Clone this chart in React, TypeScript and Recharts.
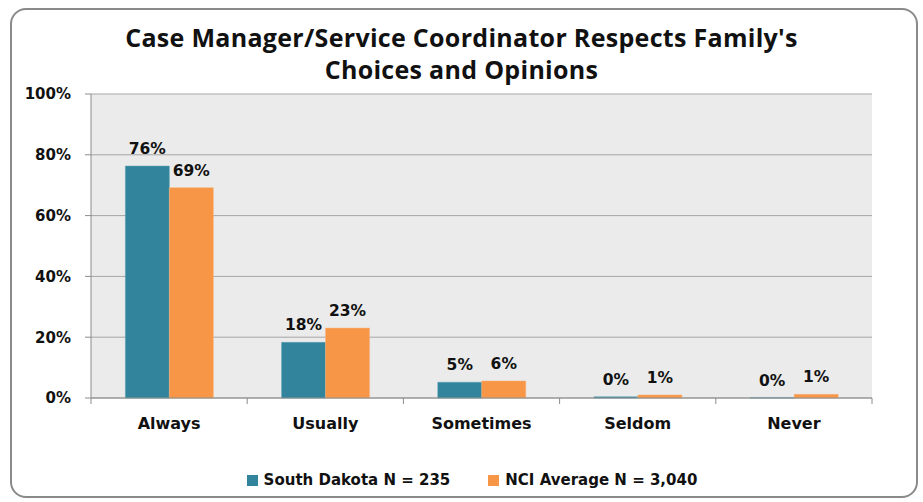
import { BarChart, Bar, XAxis, YAxis, CartesianGrid, Legend, LabelList } from "recharts";

const categories = ["Always", "Usually", "Sometimes", "Seldom", "Never"];
const southDakota = [76.3, 18.3, 5.2, 0.4, 0.1];
const nciAverage = [69.2, 23.0, 5.6, 1.0, 1.2];
const yTicks = [0, 20, 40, 60, 80, 100];

const seriesNames = ["South Dakota N = 235", "NCI Average N = 3,040"];
const seriesColors = ["#31849b", "#f79646"];
const titleLines = ["Case Manager/Service Coordinator Respects Family's", "Choices and Opinions"];

const W = 923;
const H = 502;
const PLOT_LEFT = 91;
const PLOT_RIGHT = 872;
const BAND = (PLOT_RIGHT - PLOT_LEFT) / categories.length;

const data = categories.map((c, i) => ({ name: c, sd: southDakota[i], nci: nciAverage[i] }));

const FONT = "'DejaVu Sans', Verdana, sans-serif";

function CatTick(props: any) {
  const { x, y, payload, index } = props;
  const left = x - BAND / 2;
  return (
    <g>
      <line x1={left} y1={y - 8} x2={left} y2={y - 2} stroke="#8c8c8c" />
      {index === categories.length - 1 && (
        <line x1={left + BAND} y1={y - 8} x2={left + BAND} y2={y - 2} stroke="#8c8c8c" />
      )}
      <text x={x} y={y + 23} textAnchor="middle" fontFamily={FONT} fontWeight="bold" fontSize={16} fill="#111">
        {payload.value}
      </text>
    </g>
  );
}

function LegendBox() {
  return (
    <div style={{ display: "flex", justifyContent: "center", paddingTop: 24, paddingLeft: 72, fontFamily: FONT, fontWeight: "bold", fontSize: 15, color: "#111", lineHeight: "16px" }}>
      {seriesNames.map((n, i) => (
        <div key={n} style={{ display: "flex", alignItems: "center", marginRight: i === 0 ? 38 : 0 }}>
          <span style={{ width: 11, height: 11, background: seriesColors[i], display: "inline-block", marginRight: 6 }} />
          <span>{n}</span>
        </div>
      ))}
    </div>
  );
}

const pct = (v: any) => Math.round(Number(v)) + "%";

export default function App() {
  return (
    <div style={{ position: "fixed", left: 0, top: 0, width: W, height: H, background: "#fff" }}>
      <div
        style={{
          position: "absolute", left: 10, top: 8, width: 904, height: 486,
          border: "2px solid #8a8a8a", borderRadius: 16,
        }}
      />
      {titleLines.map((t, i) => (
        <div
          key={t}
          style={{
            position: "absolute", left: 0, top: 22 + i * 32, width: W, textAlign: "center",
            fontFamily: "'Open Sans', sans-serif", fontWeight: 700, fontSize: 25, lineHeight: "30px",
            color: "#111", letterSpacing: 0.3,
          }}
        >
          {t}
        </div>
      ))}
      <div style={{ position: "absolute", left: 0, top: 0 }}>
        <BarChart
          width={W}
          height={H}
          data={data}
          margin={{ top: 94, right: W - PLOT_RIGHT, bottom: 14, left: 0 }}
          barGap={0}
          barCategoryGap="22%"
        >
          <CartesianGrid vertical={false} stroke="#a6a6a6" fill="#ebebeb" />
          <XAxis
            dataKey="name"
            axisLine={{ stroke: "#8c8c8c" }}
            tickLine={false}
            tick={<CatTick />}
            height={50}
            interval={0}
          />
          <YAxis
            domain={[0, 100]}
            ticks={yTicks}
            width={PLOT_LEFT}
            axisLine={{ stroke: "#8c8c8c" }}
            tickLine={{ stroke: "#8c8c8c" }}
            tickSize={6}
            tickMargin={14}
            tickFormatter={(v) => v + "%"}
            tick={{ fontFamily: FONT, fontWeight: "bold", fontSize: 15, fill: "#111" }}
          />
          <Legend verticalAlign="bottom" height={40} content={<LegendBox />} />
          <Bar dataKey="sd" name={seriesNames[0]} fill={seriesColors[0]} stroke="#5fa3b6" strokeWidth={0.5} isAnimationActive={false}>
            <LabelList dataKey="sd" position="top" offset={12} formatter={pct} style={{ fontFamily: FONT, fontWeight: "bold", fontSize: 15.5, fill: "#111" }} />
          </Bar>
          <Bar dataKey="nci" name={seriesNames[1]} fill={seriesColors[1]} stroke="#f9b07a" strokeWidth={0.5} isAnimationActive={false}>
            <LabelList dataKey="nci" position="top" offset={12} formatter={pct} style={{ fontFamily: FONT, fontWeight: "bold", fontSize: 15.5, fill: "#111" }} />
          </Bar>
        </BarChart>
      </div>
    </div>
  );
}
